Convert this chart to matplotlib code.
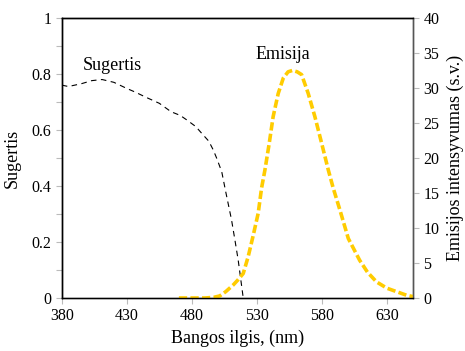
import matplotlib.pyplot as plt
from matplotlib.ticker import MultipleLocator

# absorption (left axis)
abs_wl = [380, 385, 395, 403, 411, 420, 430, 436, 445, 455, 464, 471, 476, 483, 488.7, 493, 496.4, 499, 501.5, 503, 506, 510.5, 513, 515.6, 517.5, 519.5]
abs_val = [0.76, 0.755, 0.765, 0.776, 0.78, 0.77, 0.748, 0.736, 0.716, 0.695, 0.665, 0.652, 0.636, 0.612, 0.582, 0.56, 0.529, 0.5, 0.469, 0.45, 0.38, 0.279, 0.21, 0.136, 0.07, 0.0]

# emission (right axis)
em_wl = [470, 490, 497, 501.5, 506, 511.8, 515.5, 519.5, 523.3, 527, 531, 533.6, 536.2, 539.5, 542.5, 546.4, 550.3, 554, 557.4, 561, 564.4, 569.5, 574.6, 579.8, 584.9, 588.7, 593.8, 600.3, 609, 615, 622, 630, 637.5, 645, 650]
em_val = [0.0, 0.0, 0.1, 0.3, 0.9, 1.86, 2.6, 3.5, 5.9, 8.8, 12.1, 15.7, 18.3, 22.1, 25.9, 29.2, 31.4, 32.3, 32.5, 32.3, 31.9, 29.2, 25.9, 22.1, 18.3, 15.7, 12.6, 8.5, 5.4, 3.7, 2.3, 1.4, 0.9, 0.4, 0.2]

left_ticks = [0, 0.2, 0.4, 0.6, 0.8, 1]
left_labels = ['0', '0.2', '0.4', '0.6', '0.8', '1']

plt.rcParams['font.family'] = ['Liberation Serif', 'DejaVu Serif']
plt.rcParams['font.size'] = 11

fig, ax = plt.subplots(figsize=(4.65, 3.51), dpi=100)
fig.subplots_adjust(left=0.133, right=0.888, top=0.949, bottom=0.151)
ax2 = ax.twinx()

ax.plot(abs_wl, abs_val, color='black', lw=0.8, ls=(0, (5, 4)))
ax2.plot(em_wl, em_val, color='#FFCC00', lw=2.6, ls=(0, (2.3, 0.9)))

ax.set_xlim(380, 650)
ax.set_ylim(0, 1)
ax2.set_ylim(0, 40)
ax.set_xticks([380, 430, 480, 530, 580, 630])
ax.set_yticks(left_ticks)
ax.set_yticklabels(left_labels)
ax.yaxis.set_minor_locator(MultipleLocator(0.1))
ax2.set_yticks(range(0, 41, 5))

for a in (ax, ax2):
    a.tick_params(which='both', color='#bbbbbb', length=4, width=0.8, labelsize=11.5)
    for s in a.spines.values():
        s.set_color('black')
        s.set_linewidth(1)
ax.spines['bottom'].set_color('#555555')
ax.spines['right'].set_color('#555555')
ax2.spines['right'].set_color('#555555')

ax.set_xlabel('Bangos ilgis, (nm)', fontsize=13, labelpad=4)
ax.set_ylabel('Sugertis', fontsize=13, labelpad=8)
ax2.set_ylabel('Emisijos intensyvumas (s.v.)', fontsize=13, labelpad=5)

ax.text(419, 0.83, 'Sugertis', fontsize=13, ha='center', va='center')
ax.text(550, 0.87, 'Emisija', fontsize=13, ha='center', va='center')

plt.savefig('out.png')
